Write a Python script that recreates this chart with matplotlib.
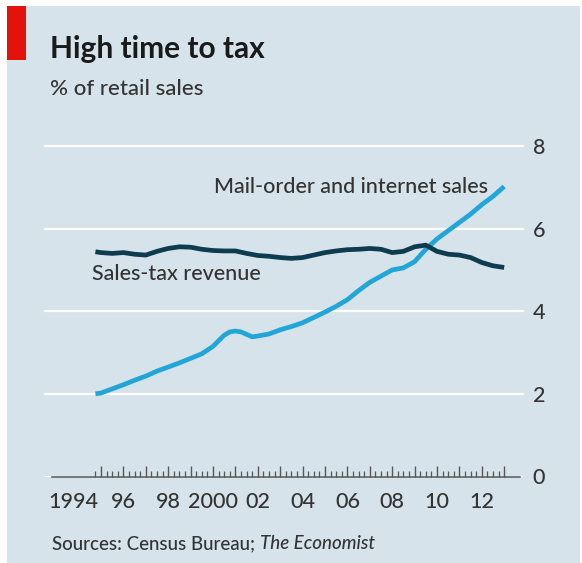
import matplotlib
matplotlib.use("Agg")
import matplotlib.pyplot as plt
from matplotlib.patches import Rectangle
from matplotlib.transforms import ScaledTranslation
import numpy as np

plt.rcParams['font.family'] = ['Lato', 'DejaVu Sans']

# ---- data ----
mail_years = [1994.75, 1995.0, 1995.5, 1996.0, 1996.5, 1997.0, 1997.5, 1998.0, 1998.5,
              1999.0, 1999.5, 2000.0, 2000.5, 2000.75, 2001.0, 2001.25, 2001.5, 2001.75,
              2002.0, 2002.5, 2003.0, 2003.5, 2004.0, 2004.5, 2005.0, 2005.5, 2006.0,
              2006.5, 2007.0, 2007.5, 2008.0, 2008.5, 2009.0, 2009.5, 2010.0, 2010.5,
              2011.0, 2011.5, 2012.0, 2012.5, 2013.0]
mail_values = [2.00, 2.02, 2.12, 2.22, 2.33, 2.43, 2.55, 2.65, 2.75,
               2.86, 2.97, 3.15, 3.42, 3.50, 3.52, 3.50, 3.44, 3.38,
               3.40, 3.45, 3.55, 3.63, 3.72, 3.85, 3.98, 4.12, 4.28,
               4.50, 4.70, 4.85, 5.00, 5.05, 5.20, 5.50, 5.75, 5.95,
               6.15, 6.35, 6.58, 6.78, 7.02]

tax_years = [1994.75, 1995.0, 1995.5, 1996.0, 1996.5, 1997.0, 1997.5, 1998.0, 1998.5,
             1999.0, 1999.5, 2000.0, 2000.5, 2001.0, 2001.5, 2002.0, 2002.5, 2003.0,
             2003.5, 2004.0, 2004.5, 2005.0, 2005.5, 2006.0, 2006.5, 2007.0, 2007.5,
             2008.0, 2008.5, 2009.0, 2009.5, 2010.0, 2010.5, 2011.0, 2011.5, 2012.0,
             2012.5, 2013.0]
tax_values = [5.44, 5.42, 5.40, 5.42, 5.38, 5.36, 5.45, 5.52, 5.56,
              5.55, 5.50, 5.47, 5.46, 5.46, 5.40, 5.35, 5.33, 5.30,
              5.28, 5.30, 5.36, 5.42, 5.46, 5.49, 5.50, 5.52, 5.50,
              5.42, 5.45, 5.56, 5.60, 5.45, 5.38, 5.36, 5.30, 5.18,
              5.10, 5.06]

x_label_years = [1994, 1996, 1998, 2000, 2002, 2004, 2006, 2008, 2010, 2012]
x_labels = ["1994", "96", "98", "2000", "02", "04", "06", "08", "10", "12"]
y_ticks = [0, 2, 4, 6, 8]

title = "High time to tax"
subtitle = "% of retail sales"
mail_label = "Mail-order and internet sales"
tax_label = "Sales-tax revenue"

# ---- styling ----
BG = "#d7e3ea"
RED = "#e3120b"
CYAN = "#22a6d8"
DARK = "#0d3b4f"
TXT = "#333333"
W8 = "medium"

W, H = 582, 563
fig = plt.figure(figsize=(W / 100, H / 100), dpi=100)
fig.patch.set_facecolor("white")
fig.add_artist(Rectangle((7 / W, 0), (580 - 7) / W, (H - 6) / H,
                         transform=fig.transFigure, facecolor=BG, edgecolor="none", zorder=0))
fig.add_artist(Rectangle((7 / W, (H - 60) / H), 19 / W, 54 / H,
                         transform=fig.transFigure, facecolor=RED, edgecolor="none", zorder=1))

ax = fig.add_axes([45 / W, (H - 476.5) / H, 478 / W, 330.5 / H])
ax.set_facecolor("none")
ax.set_xlim(1992.5, 2013.84)
ax.set_ylim(0, 8)
for s in ax.spines.values():
    s.set_visible(False)

for yv in y_ticks[1:]:
    ax.axhline(yv, color="white", lw=1.6, zorder=1, clip_on=False)
ax.plot([1992.8, 2013.7], [0, 0], color="#555555", lw=1.1, zorder=2, clip_on=False)

ax.plot(mail_years, mail_values, color=CYAN, lw=3.4, zorder=3, solid_capstyle="butt",
        clip_on=False)
ax.plot(tax_years, tax_values, color=DARK, lw=3.4, zorder=4, solid_capstyle="butt",
        clip_on=False)

ax.text(2012.28, 7.0, mail_label, ha="right", va="center", fontsize=15.5, color=TXT,
        fontweight=W8)
ax.text(1994.6, 4.9, tax_label, ha="left", va="center", fontsize=15.5, color=TXT,
        fontweight=W8)

# y axis on the right
ax.yaxis.tick_right()
ax.set_yticks(y_ticks)
ax.set_yticklabels([str(v) for v in y_ticks], fontweight=W8)
ax.tick_params(axis="y", length=0, pad=7, labelsize=15.5, labelcolor=TXT)

# x ticks: year marks (tall) and quarter marks (short), inward
ax.set_xticks(list(range(1995, 2014)))
ax.set_xticks([q for q in np.arange(1994.75, 2013.01, 0.25)], minor=True)
ax.tick_params(axis="x", which="major", direction="in", length=8, width=1,
               color="#555555", labelbottom=False)
ax.tick_params(axis="x", which="minor", direction="in", length=4.5, width=0.9,
               color="#555555")

sec = ax.secondary_xaxis(0)
sec.set_xticks(x_label_years)
sec.set_xticklabels(x_labels, fontweight=W8)
sec.tick_params(length=0, pad=11, labelsize=15.5, labelcolor=TXT)
for s in sec.spines.values():
    s.set_visible(False)
# nudge the first label left, as in the original
lbl0 = sec.get_xticklabels()[0]
lbl0.set_transform(lbl0.get_transform() + ScaledTranslation(-5 / 100, 0, fig.dpi_scale_trans))

fig.text(50 / W, 1 - 58 / H, title, fontsize=21.5, fontweight="bold", color="#1a1a1a",
         ha="left", va="baseline")
fig.text(50 / W, 1 - 95 / H, subtitle, fontsize=16, color=TXT, ha="left", va="baseline",
         fontweight=W8)

t1 = fig.text(52 / W, 1 - 549 / H, "Sources: Census Bureau; ", fontsize=13.5, color=TXT,
              ha="left", va="baseline", fontweight=W8)
fig.canvas.draw()
bb = t1.get_window_extent()
fig.text(bb.x1 / W, 1 - 549 / H, "The Economist", fontsize=13.5, color=TXT,
         style="italic", ha="left", va="baseline", fontweight=W8)

fig.savefig("out.png", dpi=100, facecolor=fig.get_facecolor())
